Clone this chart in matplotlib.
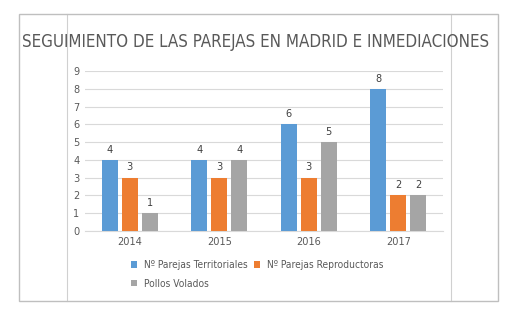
import matplotlib.pyplot as plt
import numpy as np
from matplotlib.lines import Line2D
from matplotlib.patches import Rectangle

# chart data
years = ["2014", "2015", "2016", "2017"]
territoriales = [4, 4, 6, 8]
reproductoras = [3, 3, 3, 2]
pollos = [1, 4, 5, 2]
series_names = ["Nº Parejas Territoriales", "Nº Parejas Reproductoras", "Pollos Volados"]
colors = ["#5B9BD5", "#ED7D31", "#A5A5A5"]
text_color = "#595959"

plt.rcParams['font.family'] = ['DejaVu Sans']
plt.rcParams['font.stretch'] = 'condensed'

fig = plt.figure(figsize=(5.17, 3.21), dpi=100)
ax = fig.add_axes([85/517, 1 - 231/321, 358/517, 160/321])

# frame + cell lines behind the chart
fig.patches.append(Rectangle((19/517, 1 - 301/321), 479/517, 287/321, transform=fig.transFigure,
                             fill=False, edgecolor="#BFBFBF", linewidth=1.0, zorder=0))
for xv in [66.5, 451]:
    fig.lines.append(Line2D([xv/517, xv/517], [1 - 301/321, 1 - 14/321], transform=fig.transFigure,
                            color="#D0D0D0", linewidth=0.8, zorder=0))

x = np.arange(len(years))
step = 0.223
width = 0.179
handles = []
for i, (vals, name, c) in enumerate(zip([territoriales, reproductoras, pollos], series_names, colors)):
    bars = ax.bar(x + (i - 1) * step, vals, width, color=c, label=name, zorder=3)
    ax.bar_label(bars, padding=3.8, fontsize=7.8, color="#404040")
    handles.append(bars)

ax.set_xlim(-0.5, len(years) - 0.5)
ax.set_ylim(0, 9)
ax.set_yticks(range(10))
ax.set_xticks(x, years)
ax.yaxis.grid(True, color="#D9D9D9", linewidth=0.8, zorder=0)
ax.set_axisbelow(True)
for s in ["top", "right", "left"]:
    ax.spines[s].set_visible(False)
ax.spines["bottom"].set_color("#D9D9D9")
ax.tick_params(axis="both", length=0, labelsize=7.8, labelcolor=text_color)
ax.tick_params(axis="y", pad=4)
ax.tick_params(axis="x", pad=4)

fig.text(256/517, 1 - 42/321, "SEGUIMIENTO DE LAS PAREJAS EN MADRID E INMEDIACIONES",
         ha="center", va="center", fontsize=12.2, color=text_color)

# row-wise order: Territoriales, Reproductoras / Pollos
order = [0, 2, 1]
fig.legend([handles[k] for k in order], [series_names[k] for k in order],
           loc="upper left", bbox_to_anchor=(131/517, 1 - 260/321), ncol=2, frameon=False,
           fontsize=7.3, labelcolor=text_color, handlelength=0.6, handleheight=0.6,
           handletextpad=0.7, columnspacing=0.55, labelspacing=0.85, borderpad=0, borderaxespad=0)

fig.savefig("out.png", dpi=100)
